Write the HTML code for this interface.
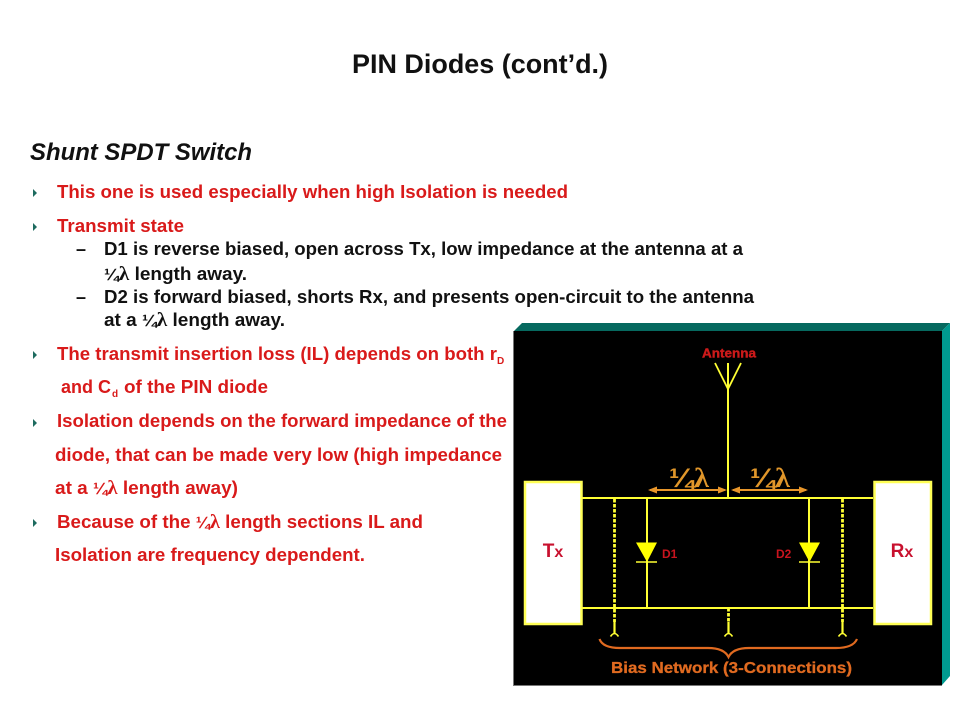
<!DOCTYPE html>
<html>
<head>
<meta charset="utf-8">
<style>
html,body{margin:0;padding:0;background:#fff}
svg{display:block}
text{font-family:"Liberation Sans",sans-serif;font-weight:bold}
.r{fill:#d91a1a;font-size:18.6px}
.k{fill:#111;font-size:18px}
.l{font-family:"Liberation Serif",serif;font-size:20px}
.q{font-size:17px}
</style>
</head>
<body>
<svg width="960" height="720" viewBox="0 0 960 720" xmlns="http://www.w3.org/2000/svg">
<rect width="960" height="720" fill="#fff"/>
<text x="480" y="73" text-anchor="middle" fill="#111" style="font-size:26.900px" textLength="256" lengthAdjust="spacingAndGlyphs">PIN Diodes (cont’d.)</text>
<text x="30" y="160" fill="#111" style="font-size:24px;font-style:italic" textLength="222" lengthAdjust="spacingAndGlyphs">Shunt SPDT Switch</text>

<g fill="#1d6b5f">
<path d="M33 189l4 4-4 4z"/><path d="M33 223l4 4-4 4z"/><path d="M33 351l4 4-4 4z"/><path d="M33 419l4 4-4 4z"/><path d="M33 519l4 4-4 4z"/>
</g>

<text class="r" x="57" y="198" textLength="511" lengthAdjust="spacingAndGlyphs">This one is used especially when high Isolation is needed</text>
<text class="r" x="57" y="232" textLength="127" lengthAdjust="spacingAndGlyphs">Transmit state</text>
<text class="k" x="76" y="255">–</text>
<text class="k" x="104" y="255" textLength="639" lengthAdjust="spacingAndGlyphs">D1 is reverse biased, open across Tx, low impedance at the antenna at a</text>
<text class="k" x="104" y="280" textLength="143" lengthAdjust="spacingAndGlyphs"><tspan class="q">¼</tspan><tspan class="l">λ</tspan> length away.</text>
<text class="k" x="76" y="303">–</text>
<text class="k" x="104" y="303" textLength="650" lengthAdjust="spacingAndGlyphs">D2 is forward biased, shorts Rx, and presents open-circuit to the antenna</text>
<text class="k" x="104" y="326" textLength="181" lengthAdjust="spacingAndGlyphs">at a <tspan class="q">¼</tspan><tspan class="l">λ</tspan> length away.</text>
<text class="r" x="57" y="360" textLength="440" lengthAdjust="spacingAndGlyphs">The transmit insertion loss (IL) depends on both r</text>
<text class="r" x="497" y="364" style="font-size:10px">D</text>
<text class="r" x="61" y="393" textLength="50" lengthAdjust="spacingAndGlyphs">and C</text>
<text class="r" x="112" y="397" style="font-size:10px">d</text>
<text class="r" x="124" y="393" textLength="144" lengthAdjust="spacingAndGlyphs">of the PIN diode</text>
<text class="r" x="57" y="427" textLength="450" lengthAdjust="spacingAndGlyphs">Isolation depends on the forward impedance of the</text>
<text class="r" x="55" y="461" textLength="447" lengthAdjust="spacingAndGlyphs">diode, that can be made very low (high impedance</text>
<text class="r" x="55" y="494" textLength="183" lengthAdjust="spacingAndGlyphs">at a <tspan class="q">¼</tspan><tspan class="l">λ</tspan> length away)</text>
<text class="r" x="57" y="528" textLength="366" lengthAdjust="spacingAndGlyphs">Because of the <tspan class="q">¼</tspan><tspan class="l">λ</tspan> length sections IL and</text>
<text class="r" x="55" y="561" textLength="310" lengthAdjust="spacingAndGlyphs">Isolation are frequency dependent.</text>

<!-- panel -->
<polygon points="514,331 522,323 950,323 942,331" fill="#06695f"/>
<polygon points="942,331 950,323 950,676 942,685" fill="#009a90"/>
<rect x="514" y="331" width="428" height="354" fill="#000"/>
<path d="M513.500 331V685.500H942" fill="none" stroke="#777" stroke-width="1"/>

<!-- boxes -->
<rect x="525" y="482" width="56.500" height="142" fill="#fff" stroke="#ffff55" stroke-width="2.500"/>
<rect x="874.500" y="482" width="56.500" height="142" fill="#fff" stroke="#ffff55" stroke-width="2.500"/>
<text x="553" y="557" text-anchor="middle" fill="#c8102e" style="font-size:19px">T<tspan style="font-size:16px">x</tspan></text>
<text x="902" y="557" text-anchor="middle" fill="#c8102e" style="font-size:19px">R<tspan style="font-size:16px">x</tspan></text>

<!-- wires -->
<g stroke="#ffff33" stroke-width="2" fill="none">
<path d="M582 498H873M582 608H873"/>
<path d="M728 363V499"/>
<path d="M715 363L728 389L741 363" stroke-width="1.800"/>
<path d="M647 498V608M809 498V608"/>
<path d="M614.500 622V634M842.500 622V634M728.500 622V634" stroke-width="2.200"/>
<path d="M610.500 636.500Q614.500 630.500 618.500 636.500M724.500 636.500Q728.500 630.500 732.500 636.500M838.500 636.500Q842.500 630.500 846.500 636.500" stroke-width="1.600"/>
</g>
<g stroke="#ffff33" stroke-width="2.800" stroke-dasharray="3.500 1.500" fill="none">
<path d="M614.500 499V622M842.500 499V622M728.500 608V622"/>
</g>

<!-- diodes -->
<polygon points="636,542.500 657,542.500 647,562" fill="#ffff00"/>
<path d="M636 562H657" stroke="#ffff33" stroke-width="1.500"/>
<polygon points="799,542.500 820,542.500 809.500,562" fill="#ffff00"/>
<path d="M799 562H820" stroke="#ffff33" stroke-width="1.500"/>
<text x="662" y="558" fill="#c8141e" style="font-size:12px">D1</text>
<text x="776" y="558" fill="#c8141e" style="font-size:12px">D2</text>

<!-- quarter wave -->
<g stroke="#e8962a" stroke-width="2" fill="#e8962a">
<path d="M650 490H725M733 490H806" fill="none"/>
<path d="M648 490l9-3.500v7zM727 490l-9-3.500v7zM731 490l9-3.500v7zM808 490l-9-3.500v7z" stroke="none"/>
</g>
<g fill="#e0962a">
<text x="669" y="487" style="font-size:27px" textLength="40" lengthAdjust="spacingAndGlyphs">¼<tspan class="l" style="font-size:27px">λ</tspan></text>
<text x="750" y="487" style="font-size:27px" textLength="40" lengthAdjust="spacingAndGlyphs">¼<tspan class="l" style="font-size:27px">λ</tspan></text>
</g>

<text x="729" y="357.500" text-anchor="middle" fill="#cc1a1a" stroke="#cc1a1a" stroke-width=".4" style="font-size:12.500px" textLength="54" lengthAdjust="spacingAndGlyphs">Antenna</text>

<!-- brace -->
<path d="M599.500 639C602 646 610 648 620 648H708C720 648 726 652 728.500 657C731 652 737 648 749 648H836C846 648 854 646 857 639" fill="none" stroke="#e06a20" stroke-width="2.200"/>
<text x="611" y="673" fill="#e06a20" stroke="#e06a20" stroke-width=".3" style="font-size:16px" textLength="241" lengthAdjust="spacingAndGlyphs">Bias Network (3-Connections)</text>
</svg>
</body>
</html>
